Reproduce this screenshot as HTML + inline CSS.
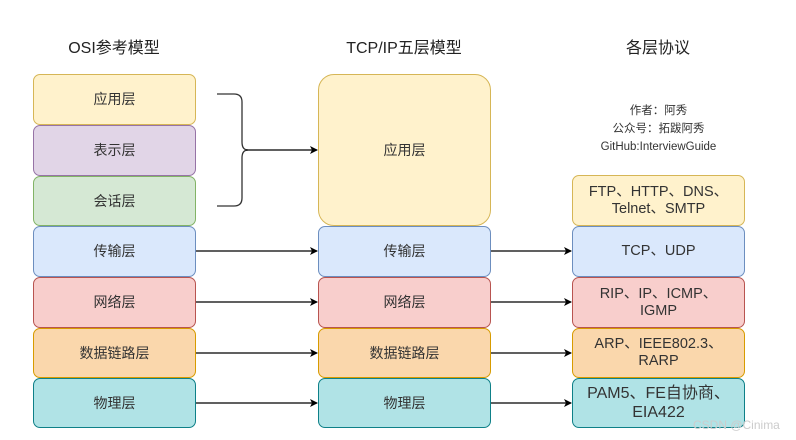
<!DOCTYPE html>
<html><head><meta charset="utf-8"><style>
body{margin:0;width:796px;height:440px;background:#fff;position:relative;overflow:hidden;font-family:"Liberation Sans","Noto Sans CJK SC",sans-serif;color:#333}
.b{position:absolute;box-sizing:border-box;border:1.3px solid;border-radius:7px;display:flex;align-items:center;justify-content:center;text-align:center;font-size:14px;line-height:17px}
.h{position:absolute;font-size:16px;color:#222;transform:translateX(-50%);top:34px;white-space:nowrap}
.y{background:#fff2cc;border-color:#d6b656}.p{background:#e1d5e7;border-color:#9673a6}.g{background:#d5e8d4;border-color:#82b366}
.bl{background:#dae8fc;border-color:#6c8ebf}.r{background:#f8cecc;border-color:#b85450}.o{background:#fad7ac;border-color:#d79b00}.t{background:#b0e3e6;border-color:#0e8088}
.L{left:33px;width:163px}.M{left:318px;width:173px}.R{left:572px;width:173px;font-size:14.5px}
</style></head><body>
<div class="h" style="left:114px">OSI参考模型</div>
<div class="h" style="left:404px">TCP/IP五层模型</div>
<div class="h" style="left:658px">各层协议</div>
<div class="b L y" style="top:74px;height:51px">应用层</div>
<div class="b L p" style="top:125px;height:51px">表示层</div>
<div class="b L g" style="top:176px;height:50px">会话层</div>
<div class="b L bl" style="top:226px;height:51px">传输层</div>
<div class="b L r" style="top:277px;height:51px">网络层</div>
<div class="b L o" style="top:328px;height:50px">数据链路层</div>
<div class="b L t" style="top:378px;height:50px">物理层</div>
<div class="b M y" style="top:74px;height:152px;border-radius:16px">应用层</div>
<div class="b M bl" style="top:226px;height:51px">传输层</div>
<div class="b M r" style="top:277px;height:51px">网络层</div>
<div class="b M o" style="top:328px;height:50px">数据链路层</div>
<div class="b M t" style="top:378px;height:50px">物理层</div>
<div style="position:absolute;left:572px;width:173px;top:102px;text-align:center;font-size:11.5px;line-height:18px;color:#333">作者：阿秀<br>公众号：拓跋阿秀<br>GitHub:InterviewGuide</div>
<div class="b R y" style="top:175px;height:51px">FTP、HTTP、DNS、<br>Telnet、SMTP</div>
<div class="b R bl" style="top:226px;height:51px">TCP、UDP</div>
<div class="b R r" style="top:277px;height:51px">RIP、IP、ICMP、<br>IGMP</div>
<div class="b R o" style="top:328px;height:50px">ARP、IEEE802.3、<br>RARP</div>
<div class="b R t" style="top:378px;height:50px;font-size:16px;line-height:19px">PAM5、FE自协商、<br>EIA422</div>
<svg width="796" height="440" style="position:absolute;left:0;top:0">
<defs><marker id="a" markerWidth="8" markerHeight="8" refX="7" refY="4" orient="auto" markerUnits="userSpaceOnUse"><path d="M0,0L8,4L0,8L2,4z" fill="#000"/></marker></defs>
<path d="M217,94 H234 Q242,94 242,102 V142 Q242,150 248,150 Q242,150 242,158 V198 Q242,206 234,206 H217" fill="none" stroke="#333" stroke-width="1.3"/>
<g stroke="#000" stroke-width="1.2" marker-end="url(#a)">
<line x1="246" y1="150" x2="317" y2="150"/>
<line x1="196" y1="251" x2="317" y2="251"/><line x1="196" y1="302" x2="317" y2="302"/><line x1="196" y1="353" x2="317" y2="353"/><line x1="196" y1="403" x2="317" y2="403"/>
<line x1="491" y1="251" x2="571" y2="251"/><line x1="491" y1="302" x2="571" y2="302"/><line x1="491" y1="353" x2="571" y2="353"/><line x1="491" y1="403" x2="571" y2="403"/>
</g></svg>
<div style="position:absolute;left:693px;top:418px;font-size:12px;color:#ccc">CSDN @Cinima</div>
</body></html>
